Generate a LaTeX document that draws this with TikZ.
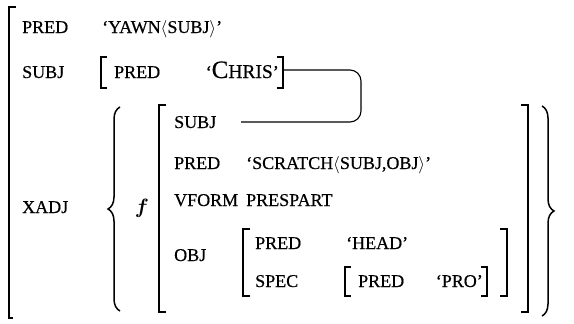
\documentclass[tikz,border=0pt]{standalone}
\usepackage{fontspec}
\setmainfont{Liberation Serif}[FakeBold=0.5]
\usepackage{tikz}
\usetikzlibrary{decorations.pathreplacing,positioning}

\begin{document}
\begin{tikzpicture}[
 x=1pt,y=-1pt,
 txt/.style={anchor=base west,inner sep=0pt,font=\fontsize{18}{21}\selectfont},
 sq/.style={line width=1.4pt},
 curly/.style={decorate,decoration={brace,amplitude=12pt},line width=1.5pt},
 link/.style={line width=1.1pt,rounded corners=11pt}
]
\useasboundingbox (0,0) rectangle (574,324);
% outer f-structure
\draw[sq] (16,7) -- (9,7) -- (9,318) -- (13,318);
\node[txt] (pred1) at (22,33) {PRED};
\node[txt] (yawn) at (102,33) {`YAWN$\langle$SUBJ$\rangle$'};
\node[txt] (subj1) at (22,78) {SUBJ};
\draw[sq] (107,57) -- (101,57) -- (101,88) -- (107,88);
\node[txt] (pred2) at (114,78) {PRED};
\node[txt,anchor=base east] (chris) at (279,78) {`{\fontsize{25}{26}\selectfont C}{\fontsize{19.5}{21}\selectfont HRIS}'};
\draw[sq] (277,57) -- (283,57) -- (283,88) -- (277,88);
\coordinate (chrisend) at (284,70);
\node[txt] (xadj) at (22,213) {XADJ};
% adjunct set
\draw[curly] (120,311) -- (120,107);
\node[anchor=base,inner sep=0pt,font=\fontsize{22}{24}\selectfont\boldmath] (fvar) at (142,213) {$f$};
\draw[sq] (166,105) -- (159,105) -- (159,312) -- (166,312);
\node[txt] (subj2) at (174,128) {SUBJ};
\coordinate (share) at (241,122);
\node[txt] (pred3) at (174,169) {PRED};
\node[txt] (scratch) at (246,169) {`SCRATCH$\langle$SUBJ,OBJ$\rangle$'};
\node[txt] (vform) at (174,206) {VFORM};
\node[txt] (prespart) at (246,206) {PRESPART};
\node[txt] (obj) at (174,261) {OBJ};
% object
\draw[sq] (250,229) -- (243,229) -- (243,296) -- (250,296);
\node[txt] (pred4) at (255,249) {PRED};
\node[txt] (head) at (346,249) {`HEAD'};
\node[txt] (spec) at (255,287) {SPEC};
\draw[sq] (351,267) -- (345,267) -- (345,296) -- (351,296);
\node[txt] (pred5) at (358,287) {PRED};
\node[txt,anchor=base east] (pro) at (483,287) {`PRO'};
\draw[sq] (481,267) -- (487,267) -- (487,296) -- (481,296);
\draw[sq] (500,229) -- (507,229) -- (507,296) -- (500,296);
\draw[sq] (521,105) -- (528,105) -- (528,312) -- (521,312);
\draw[curly] (542,106) -- (542,316);
% structure sharing
\draw[link] (chrisend) -| (361,96) |- (share);
\end{tikzpicture}
\end{document}
